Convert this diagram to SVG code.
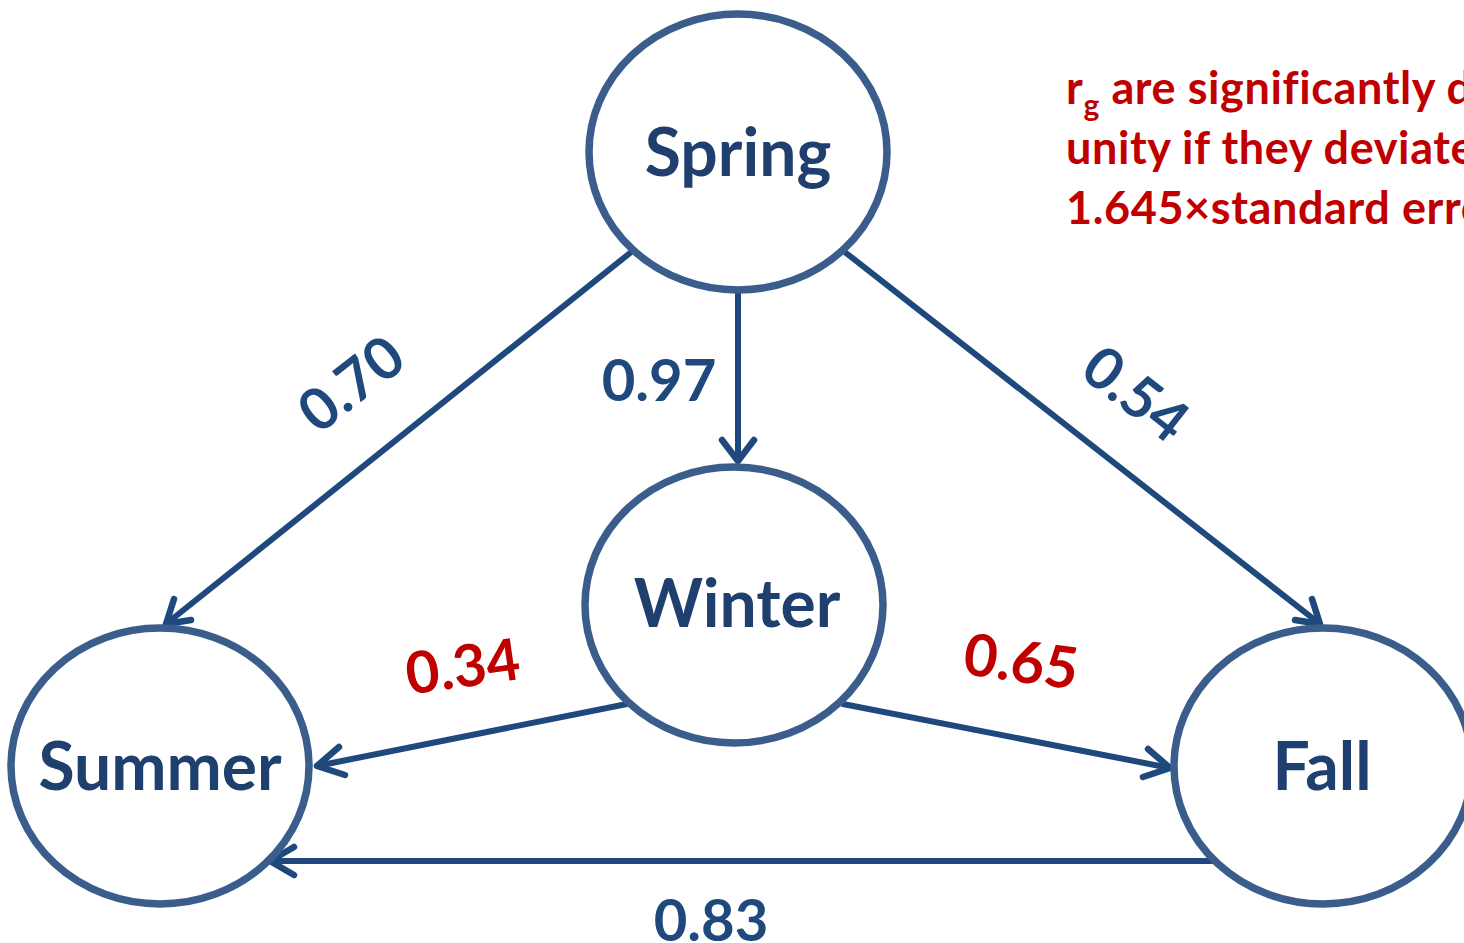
<svg xmlns="http://www.w3.org/2000/svg" width="1464" height="943" viewBox="0 0 1464 943">
<defs>
<style>
.node{fill:#fff;stroke:#3B5D8C;stroke-width:7.5}
.nl{font-family:Lato,"Open Sans",sans-serif;font-weight:bold;font-size:66px;fill:#1F3F6E;text-anchor:middle}
.edge{stroke:#1F497D;stroke-width:6;fill:none;stroke-linecap:round}
.head{stroke:#1F497D;stroke-width:6.5;fill:none;stroke-linecap:round;stroke-linejoin:round}
.lb{font-family:Lato,"Open Sans",sans-serif;font-weight:bold;font-size:58px;fill:#1F497D;text-anchor:middle}
.lr{fill:#C00000}
.note{font-family:Lato,"Open Sans",sans-serif;font-weight:bold;font-size:45px;letter-spacing:0.6px;fill:#C00000}
</style>
</defs>
<rect width="1464" height="943" fill="#fff"/>
<g id="connectors">
<line class="edge" x1="738" y1="290" x2="738" y2="460"/>
<polyline class="head" points="722,440 738,461 754,440"/>
<line class="edge" x1="630" y1="253" x2="166" y2="624"/>
<polyline class="head" points="174,599 166,624 191,620"/>
<line class="edge" x1="846" y1="253" x2="1320" y2="624"/>
<polyline class="head" points="1295,620 1320,624 1312,599"/>
<line class="edge" x1="627" y1="704" x2="317" y2="766"/>
<polyline class="head" points="339,747 317,766 345,775"/>
<line class="edge" x1="843" y1="704" x2="1170" y2="768"/>
<polyline class="head" points="1143,777 1170,768 1148,749"/>
<line class="edge" x1="1218" y1="861" x2="270" y2="861"/>
<polyline class="head" points="294,847 270,861 294,875"/>
</g>
<g id="spring"><ellipse class="node" cx="738" cy="152" rx="149" ry="138"/><text class="nl" x="738" y="176">Spring</text></g>
<g id="winter"><ellipse class="node" cx="734" cy="605" rx="149" ry="138"/><text class="nl" x="737" y="627">Winter</text></g>
<g id="summer"><ellipse class="node" cx="160" cy="766" rx="149" ry="138"/><text class="nl" x="160" y="790">Summer</text></g>
<g id="fall"><ellipse class="node" cx="1323" cy="766" rx="149" ry="138"/><text class="nl" x="1322" y="790">Fall</text></g>
<g id="labels">
<text class="lb" transform="translate(352,385) rotate(-38)" y="19">0.70</text>
<text class="lb" x="659" y="401">0.97</text>
<text class="lb" transform="translate(1135,395) rotate(38)" y="19">0.54</text>
<text class="lb lr" transform="translate(463,668) rotate(-8)" y="19">0.34</text>
<text class="lb lr" transform="translate(1021,663) rotate(8)" y="19">0.65</text>
<text class="lb" x="711" y="941">0.83</text>
</g>
<g id="note">
<text class="note" x="1066" y="104">r<tspan font-size="30" dy="12">g</tspan><tspan dy="-12"> are significantly different from</tspan></text>
<text class="note" x="1066" y="164">unity if they deviate by more than</text>
<text class="note" x="1066" y="224">1.645×standard errors</text>
</g>
</svg>
